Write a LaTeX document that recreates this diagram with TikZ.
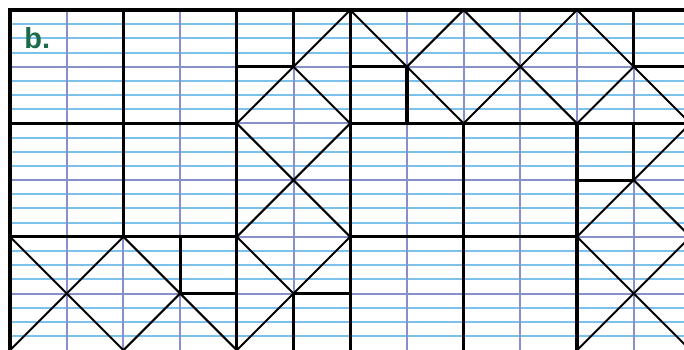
\documentclass[tikz,border=0pt]{standalone}
\usepackage{fontspec}
\setmainfont{Liberation Sans}
\definecolor{gridblue}{HTML}{7CC0EC}
\definecolor{gridpurple}{HTML}{8890CA}
\definecolor{labelgreen}{HTML}{1B6A4A}
\begin{document}
\begin{tikzpicture}[x=56.7pt,y=-56.7pt,
  blueline/.style={gridblue,line width=2pt},
  purpleline/.style={gridpurple,line width=2pt},
  heavy/.style={black,line width=3.2pt,line cap=rect},
  diag/.style={black,line width=2pt,line cap=round}]
\useasboundingbox (-0.17637,-0.17637) rectangle (11.8871,5.97884);
\begin{scope}
\clip (-0.17637,-0.17637) rectangle (11.8871,5.97884);
% thin ruling
\foreach \y in {0.25,0.5,...,5.9} { \draw[blueline] (0,\y) -- (12,\y); }
\foreach \y in {1,...,5} { \draw[purpleline] (0,\y) -- (12,\y); }
\foreach \x in {1,...,11} { \draw[purpleline] (\x,0) -- (\x,6); }
% heavy outlines
\draw[heavy] (0,6) -- (0,0) -- (12,0);
\draw[heavy] (2,0) -- (2,4);
\draw[heavy] (4,0) -- (4,6);
\draw[heavy] (6,0) -- (6,6);
\draw[heavy] (8,2) -- (8,6);
\draw[heavy] (10,2) -- (10,6);
\draw[heavy] (0,2) -- (4,2);
\draw[heavy] (6,2) -- (12,2);
\draw[heavy] (0,4) -- (4,4);
\draw[heavy] (6,4) -- (10,4);
% small squares
\draw[heavy] (5,0) -- (5,1) -- (4,1);
\draw[heavy] (6,1) -- (7,1) -- (7,2);
\draw[heavy] (11,0) -- (11,1) -- (12,1);
\draw[heavy] (11,2) -- (11,3) -- (10,3);
\draw[heavy] (3,4) -- (3,5) -- (4,5);
\draw[heavy] (5,6) -- (5,5) -- (6,5);
% diagonals
\draw[diag] (6,0) -- (4,2) -- (6,4) -- (4,6);
\draw[diag] (5,1) -- (6,2) -- (4,4) -- (5,5);
\draw[diag] (6,0) -- (8,2);
\draw[diag] (8,0) -- (7,1);
\draw[diag] (8,0) -- (10,2);
\draw[diag] (10,0) -- (8,2);
\draw[diag] (10,0) -- (12,2);
\draw[diag] (11,1) -- (10,2);
\draw[diag] (12,2) -- (10,4) -- (12,6);
\draw[diag] (11,3) -- (12,4) -- (10,6);
\draw[diag] (0,6) -- (2,4) -- (4,6);
\draw[diag] (0,4) -- (2,6) -- (3,5);
\end{scope}
\node[anchor=base west, text=labelgreen, inner sep=0pt,
  font=\bfseries\fontsize{29}{29}\selectfont] (lbl) at (0.25,0.672) {b.};
\end{tikzpicture}
\end{document}
